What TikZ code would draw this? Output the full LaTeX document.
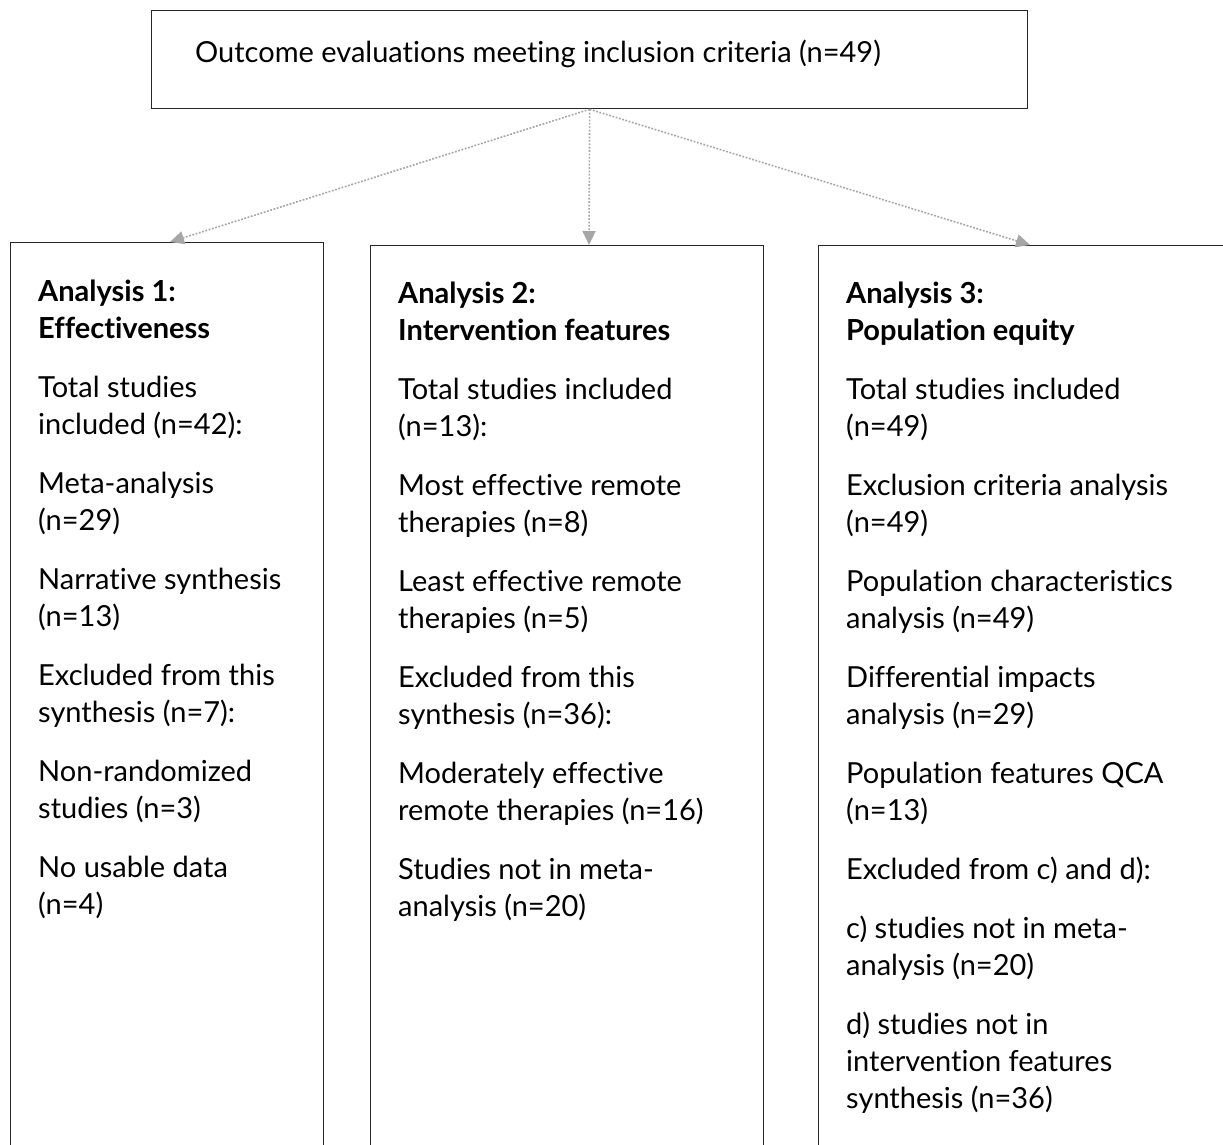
\documentclass[tikz,border=0pt]{standalone}
\usepackage{fontspec}
\setmainfont{Lato}[Ligatures=NoCommon]
\usepackage{tikz}
\usetikzlibrary{arrows.meta}
\usetikzlibrary{positioning}

\begin{document}
\begin{tikzpicture}[x=1pt, y=-1pt,
		box_main/.style={draw=black!85, line width=1.3pt, inner sep=0pt, anchor=north west},
		text_main/.style={align=left, inner sep=0pt, anchor=north west, font=\fontsize{29}{37}\selectfont},
		arrow_dotted/.style={draw=black!35, line width=1.6pt, dash pattern=on 1.8pt off 1.6pt, -{Triangle[length=14pt,width=13pt]}}]
				%% BATAS GAMBAR %%
				\useasboundingbox (0,0) rectangle (1223,1144);
				\clip (0,0) rectangle (1223,1144);
				
				%% KOTAK ATAS %%
				% Buat kotak utama
				\node[box_main, minimum width=876pt, minimum height=98pt] (top) at (151,10) {};
				\node[text_main, below right=29.5pt and 44pt of top.north west] (top_text) {Outcome evaluations meeting inclusion criteria (n=49)};
				
				%% TIGA KOTAK ANALISIS %%
				% Kotak dibuat panjang sampai keluar batas bawah
				\node[box_main, minimum width=313pt, minimum height=960pt] (panel_A1) at (10,242) {};
				\node[box_main, minimum width=393pt, minimum height=960pt] (panel_A2) at (370,245) {};
				\node[box_main, minimum width=440pt, minimum height=960pt] (panel_A3) at (818,245) {};
				
				% Isi kotak analisis 1
				\node[text_main, below right=37.5pt and 28pt of panel_A1.north west] (text_A1) {\textbf{Analysis 1:}\\\textbf{Effectiveness}\\[22pt]
					Total studies\\included (n=42):\\[22pt]
					Meta-analysis\\(n=29)\\[22pt]
					Narrative synthesis\\(n=13)\\[22pt]
					Excluded from this\\synthesis (n=7):\\[22pt]
					Non-randomized\\studies (n=3)\\[22pt]
					No usable data\\(n=4)};
				
				% Isi kotak analisis 2
				\node[text_main, below right=36.5pt and 28pt of panel_A2.north west] (text_A2) {\textbf{Analysis 2:}\\\textbf{Intervention features}\\[22pt]
					Total studies included\\(n=13):\\[22pt]
					Most effective remote\\therapies (n=8)\\[22pt]
					Least effective remote\\therapies (n=5)\\[22pt]
					Excluded from this\\synthesis (n=36):\\[22pt]
					Moderately effective\\remote therapies (n=16)\\[22pt]
					Studies not in meta-\\analysis (n=20)};
				
				% Isi kotak analisis 3
				\node[text_main, below right=36.5pt and 28pt of panel_A3.north west] (text_A3) {\textbf{Analysis 3:}\\\textbf{Population equity}\\[22pt]
					Total studies included\\(n=49)\\[22pt]
					Exclusion criteria analysis\\(n=49)\\[22pt]
					Population characteristics\\analysis (n=49)\\[22pt]
					Differential impacts\\analysis (n=29)\\[22pt]
					Population features QCA\\(n=13)\\[22pt]
					Excluded from c) and d):\\[22pt]
					c) studies not in meta-\\analysis (n=20)\\[22pt]
					d) studies not in\\intervention features\\synthesis (n=36)};
				
				%% PANAH %%
				% Titik ujung panah pada sisi atas kotak
				\coordinate (tip_A1) at (170,242);
				\coordinate (tip_A2) at (589,245);
				\coordinate (tip_A3) at (1030,245);
				
				% Hubungkan kotak atas dengan kotak analisis
				\draw[arrow_dotted] (top.south) -- (tip_A1);
				\draw[arrow_dotted] (top.south) -- (tip_A2);
				\draw[arrow_dotted] (top.south) -- (tip_A3);
				%% AKHIR GAMBAR %%
			\end{tikzpicture}
\end{document}
